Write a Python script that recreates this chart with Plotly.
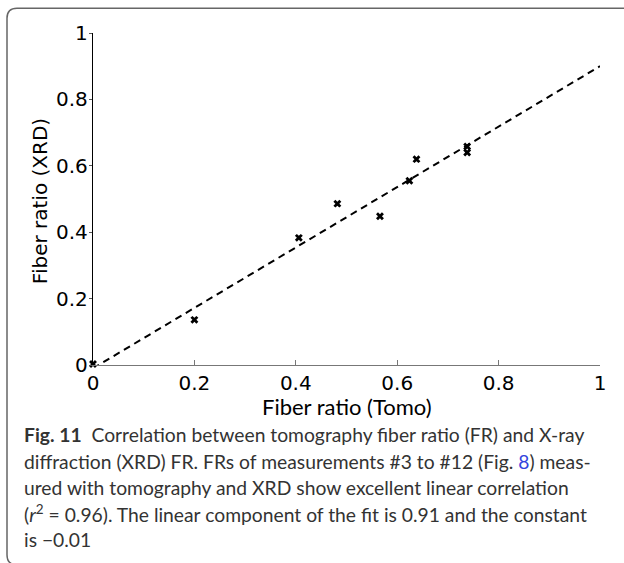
import plotly.graph_objects as go

# ---- data ----
tomo = [0.0, 0.026, 0.200, 0.406, 0.482, 0.566, 0.624, 0.638, 0.738, 0.738]
xrd = [0.003, -0.002, 0.136, 0.383, 0.486, 0.448, 0.555, 0.620, 0.658, 0.640]
fit_x = [0.0, 1.0]
fit_y = [-0.01, 0.90]
tick_vals = [0, 0.2, 0.4, 0.6, 0.8, 1]
tick_text = ["0", "0.2", "0.4", "0.6", "0.8", "1"]

x_title = "Fiber ratio (Tomo)"
y_title = "Fiber ratio (XRD)"
caption_lines = [
    "<b>Fig. 11</b>  Correlation between tomography fiber ratio (FR) and X-ray",
    "diffraction (XRD) FR. FRs of measurements #3 to #12 (Fig. <span style='color:#3344dd'>8</span>) meas-",
    "ured with tomography and XRD show excellent linear correlation",
    "(<i>r</i><sup>2</sup> = 0.96). The linear component of the fit is 0.91 and the constant",
    "is \u22120.01",
]

W, H = 624, 563
L, R, T, B = 93, 600, 32.7, 365.0


def px(x):
    return (x - L) / (R - L)


def py(y):
    return (B - y) / (B - T)


fig = go.Figure()
fig.add_trace(go.Scatter(
    x=fit_x, y=fit_y, mode="lines",
    line=dict(color="black", width=2, dash="7px,5px"),
    hoverinfo="skip", showlegend=False,
))
fig.add_trace(go.Scatter(
    x=tomo, y=xrd, mode="markers",
    marker=dict(symbol="x", size=7, color="black", line=dict(width=0)),
    showlegend=False, cliponaxis=False,
))

tick_font = dict(family="DejaVu Sans", size=20, color="black")
cap_font = "Lato"

fig.update_xaxes(
    range=[0, 1], tickvals=tick_vals, ticktext=tick_text,
    showgrid=False, zeroline=False, showline=True, linecolor="#777777", linewidth=1.3,
    ticks="inside", ticklen=5, tickcolor="#777777", tickwidth=1,
    tickfont=tick_font,
)
fig.update_yaxes(
    range=[0, 1], tickvals=tick_vals, ticktext=tick_text,
    showgrid=False, zeroline=False, showline=True, linecolor="black", linewidth=1.3,
    ticks="outside", ticklen=3, tickcolor="#555555", tickwidth=1,
    tickfont=tick_font, ticklabelstandoff=-3,
)

annotations = [
    dict(x=px(347), y=py(407), xref="paper", yref="paper", text=x_title,
         showarrow=False, xanchor="center", yanchor="middle",
         font=dict(family=cap_font, size=22, color="black")),
    dict(x=px(40), y=py(201), xref="paper", yref="paper", text=y_title,
         showarrow=False, xanchor="center", yanchor="middle", textangle=-90,
         font=dict(family="DejaVu Sans", size=20, color="black")),
]
cap_y = [435, 462, 487.5, 513.5, 540]
for txt, yy in zip(caption_lines, cap_y):
    annotations.append(dict(
        x=px(22), y=py(yy), xref="paper", yref="paper", text=txt,
        showarrow=False, xanchor="left", yanchor="middle", align="left",
        font=dict(family=cap_font, size=19.3, color="#333333"),
    ))

# rounded caption box (left/top edges visible)
r = 10
path = (
    f"M {px(640)} {py(8)} L {px(7 + r)} {py(8)} "
    f"Q {px(7)} {py(8)} {px(7)} {py(8 + r)} "
    f"L {px(7)} {py(565 - r)} "
    f"Q {px(7)} {py(565)} {px(7 + r)} {py(565)} "
    f"L {px(640)} {py(565)}"
)
fig.add_shape(type="path", path=path, xref="paper", yref="paper",
              line=dict(color="#666666", width=1.5), layer="below")

fig.update_layout(
    width=W, height=H,
    margin=dict(l=L, r=W - R, t=T, b=H - B),
    plot_bgcolor="white", paper_bgcolor="white",
    annotations=annotations,
    showlegend=False,
)

fig.write_html("out.html")
